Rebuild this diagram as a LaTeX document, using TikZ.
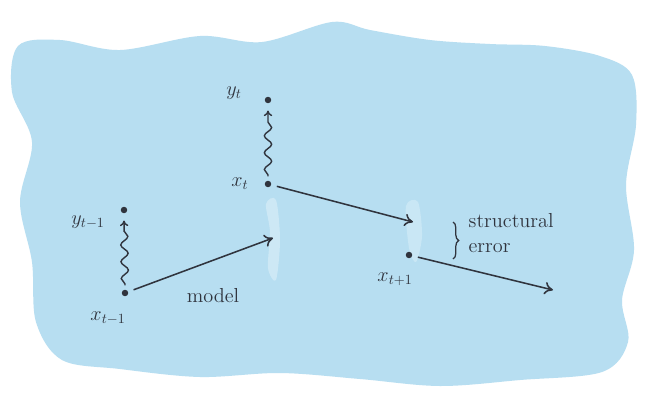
\documentclass[tikz,border=0pt]{standalone}
\usetikzlibrary{positioning,arrows.meta,decorations.pathmorphing,decorations.pathreplacing}
\definecolor{wash}{RGB}{183,222,241}
\definecolor{washlight}{RGB}{220,240,249}
\definecolor{ink}{RGB}{48,52,62}
\tikzset{
  dot/.style={circle,fill=ink,inner sep=0pt,minimum size=4.6pt},
  lab/.style={text=ink,font=\Large,inner sep=1pt},
  link/.style={ink,line width=1.1pt,shorten <=4pt,-{To[length=6pt,width=9pt]}},
  wiggle/.style={ink,line width=1pt,decorate,
    decoration={snake,amplitude=2.6pt,segment length=12pt,pre length=1pt,post length=4pt},
    -{To[length=4pt,width=6pt]}},
}
\begin{document}
\begin{tikzpicture}[x=0.025cm,y=-0.025cm]
  \useasboundingbox[fill=white] (0,0) rectangle (646,396);
  % watercolour wash
  \fill[wash] plot[smooth cycle,tension=0.55] coordinates {
    (18,46) (60,40) (120,50) (200,36) (262,42) (332,22) (370,30) (430,40)
    (490,44) (545,46) (600,56) (632,75) (636,125) (626,185) (634,250)
    (622,300) (628,342) (602,372) (520,380) (440,386) (360,379) (280,373)
    (200,377) (120,369) (62,360) (36,322) (32,262) (20,202) (32,142) (12,92)};
  \fill[washlight,opacity=0.6] plot[smooth cycle] coordinates {
    (266,204) (276,200) (280,240) (276,280) (268,268) (270,232)};
  \fill[washlight,opacity=0.5] plot[smooth cycle] coordinates {
    (406,206) (418,202) (422,236) (416,262) (409,248)};
  % points
  \node[dot] (yprev) at (124,210) {};
  \node[dot] (xprev) at (125,293) {};
  \node[dot] (ynow) at (268,100) {};
  \node[dot] (xnow) at (268,184) {};
  \node[dot] (xnext) at (409,255) {};
  \coordinate (mhead) at (273,238);
  \coordinate (nhead) at (413,222);
  \coordinate (ehead) at (553,290);
  % labels
  \node[lab] (lyprev) at (88,222) {$y_{t-1}$};
  \node[lab] (lxprev) at (108,318) {$x_{t-1}$};
  \node[lab] (lynow) at (234,93) {$y_t$};
  \node[lab] (lxnow) at (240,184) {$x_t$};
  \node[lab] (lxnext) at (395,279) {$x_{t+1}$};
  \node[lab] (lmodel) at (213,296) {model};
  \node[lab,align=left,anchor=west] (lerror) at (467,233) {structural\\error};
  % observations
  \draw[wiggle] ([yshift=3pt]xprev.north) -- ([yshift=-5pt]yprev.south);
  \draw[wiggle] ([yshift=3pt]xnow.north) -- ([yshift=-5pt]ynow.south);
  % transitions
  \draw[link] (xprev) -- (mhead);
  \draw[link] (xnow) -- (nhead);
  \draw[link] (xnext) -- (ehead);
  \draw[ink,line width=0.9pt,decorate,decoration={brace,amplitude=4pt}]
    (453,222) -- (453,259);
\end{tikzpicture}
\end{document}
